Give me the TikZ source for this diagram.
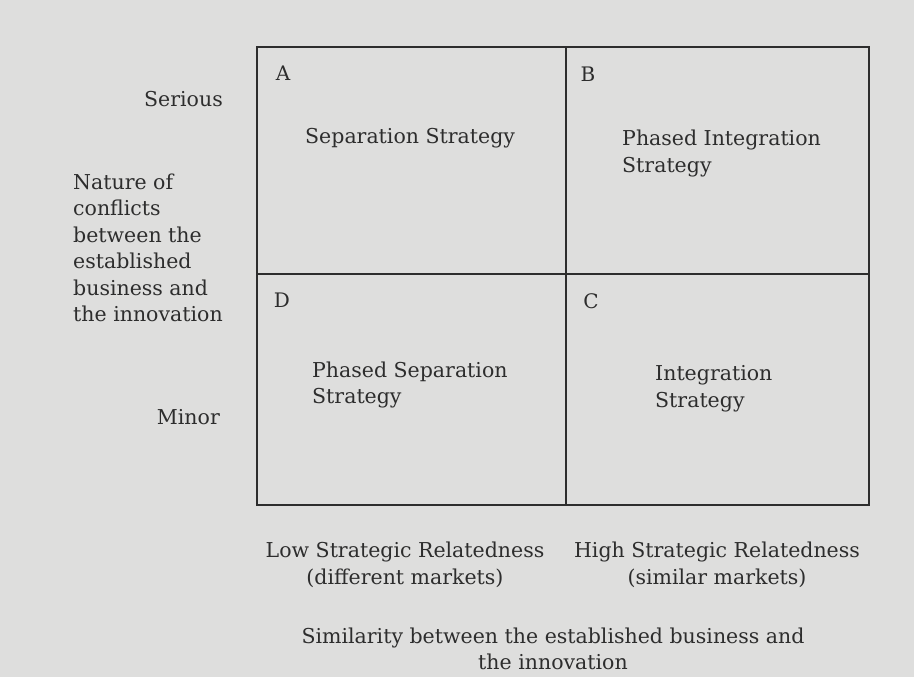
\documentclass[tikz,border=0pt]{standalone}
\usepackage{fontspec}
\setmainfont{DejaVu Serif}
\definecolor{paper}{RGB}{222,222,221}
\definecolor{ink}{RGB}{45,45,45}
\tikzset{
  lbl/.style={inner sep=0pt, text=ink, font=\fontsize{20.5}{26.5}\selectfont},
  letter/.style={lbl, font=\fontsize{20}{22}\selectfont},
  frame/.style={draw=ink, line width=1.3pt}
}
\begin{document}
\begin{tikzpicture}[x=1pt,y=-1pt]
\fill[paper] (0,0) rectangle (914,677);
\useasboundingbox (0,0) rectangle (914,677);
% matrix
\coordinate (tl) at (257,47);
\coordinate (br) at (869,505);
\draw[frame] (tl) rectangle (br);
\coordinate (vt) at (566,47);
\coordinate (vb) at (566,505);
\coordinate (hl) at (257,274);
\coordinate (hr) at (869,274);
\draw[frame] (vt) -- (vb);
\draw[frame] (hl) -- (hr);
% quadrant letters
\node[letter] (A) at (283,73) {A};
\node[letter] (B) at (588,74) {B};
\node[letter] (D) at (282,300) {D};
\node[letter] (C) at (591,301) {C};
% quadrant texts
\node[lbl, anchor=west] (sep) at (305,138) {Separation Strategy};
\node[lbl, anchor=west, align=left] (pint) at (622,153.5) {Phased Integration\\Strategy};
\node[lbl, anchor=west, align=left] (psep) at (312,385) {Phased Separation\\Strategy};
\node[lbl, anchor=west, align=left] (int) at (655,388.5) {Integration\\Strategy};
% left axis
\node[lbl, anchor=east] (serious) at (223,99) {Serious};
\node[lbl, anchor=west, align=left] (nature) at (73,248) {Nature of\\conflicts\\between the\\established\\business and\\the innovation};
\node[lbl, anchor=east] (minor) at (220,417) {Minor};
% bottom axis
\node[lbl, align=center] (low) at (405,565) {Low Strategic Relatedness\\(different markets)};
\node[lbl, align=center] (high) at (717,565) {High Strategic Relatedness\\(similar markets)};
\node[lbl, align=center] (sim) at (553,649) {Similarity between the established business and\\the innovation};
\end{tikzpicture}
\end{document}
